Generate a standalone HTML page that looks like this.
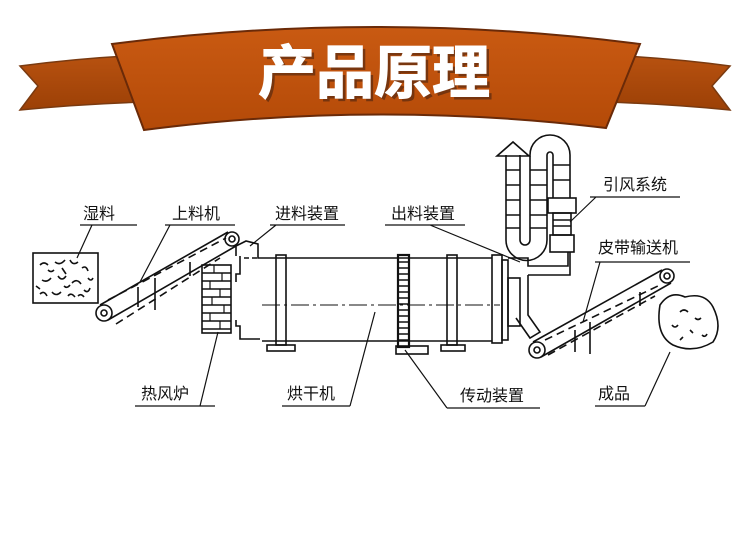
<!DOCTYPE html>
<html><head><meta charset="utf-8"><style>
html,body{margin:0;padding:0;background:#fff;}
svg{display:block;}
text{font-family:"Liberation Sans","Noto Sans CJK SC",sans-serif;}
</style></head><body>
<svg width="750" height="545" viewBox="0 0 750 545" xmlns="http://www.w3.org/2000/svg">
<defs>
<linearGradient id="g1" x1="0" y1="0" x2="0" y2="1"><stop offset="0" stop-color="#c95a12"/><stop offset="1" stop-color="#b44a08"/></linearGradient>
<linearGradient id="g2" x1="0" y1="0" x2="0" y2="1"><stop offset="0" stop-color="#b85210"/><stop offset="1" stop-color="#9c4006"/></linearGradient>
</defs>
<path d="M20,66 Q80,58 145,55 L145,102 Q80,104 20,110 L38,86 Z" fill="url(#g2)" stroke="#7a3a10" stroke-width="1.5"/>
<path d="M605,55 Q670,58 730,66 L712,86 L730,110 Q670,104 605,102 Z" fill="url(#g2)" stroke="#7a3a10" stroke-width="1.5"/>
<path d="M112,44 Q375,10 640,44 L606,128 Q375,100 144,130 Z" fill="url(#g1)" stroke="#6a2a08" stroke-width="2"/>
<text x="377" y="96" font-size="58" font-weight="bold" fill="#5a2a10" text-anchor="middle" opacity="0.7">产品原理</text>
<text x="374" y="93" font-size="58" font-weight="bold" fill="#fff" text-anchor="middle" stroke="#fff" stroke-width="1">产品原理</text>

<g fill="none" stroke="#111" stroke-width="1.6">
<rect x="33" y="253" width="65" height="50"/>
<path d="M40,265 q4,-4 8,0 M55,262 q5,4 10,-2 M70,260 q3,6 8,2 M82,268 q4,-3 6,3 M42,280 q5,3 9,-2 M58,276 q4,6 8,0 M72,283 q5,-5 9,1 M40,294 q4,-4 7,2 M52,292 q4,5 9,0 M68,296 q3,-4 7,1 M84,290 q4,4 6,-2 M62,268 l4,6 M48,270 q3,3 6,0 M88,278 q3,4 5,0 M36,286 l4,3 M78,296 q3,-3 6,1 M64,286 q3,3 6,-1"/>
<circle cx="104" cy="313" r="8"/><circle cx="104" cy="313" r="3"/>
<circle cx="232" cy="239" r="7"/><circle cx="232" cy="239" r="3"/>
<path d="M100,305 L228,232 M108,320 L236,246"/>
<path d="M108,300 L226,238 M116,324 L220,258" stroke-dasharray="8,5"/>
<path d="M138,287 v20 M155,278 v32 M190,262 v14"/>
<rect x="202" y="265" width="29" height="68"/>
<path d="M202,273h29M202,281h29M202,289h29M202,297h29M202,305h29M202,313h29M202,321h29M202,329h29"/>
<path d="M214,265v8M222,273v8M210,281v8M220,289v8M212,297v8M224,305v8M210,313v8M220,321v8" stroke-width="1.2"/>
<path d="M236,256 v-10 l10,-5 l12,3 v14 h4 M240,256 v18 h-4 v8 M236,320 v6 h4 v13 h20"/>
<path d="M244,258 h14" stroke-dasharray="5,3"/>
<path d="M262,258 H492 M262,341 H492"/>
<path d="M262,305 H500" stroke-dasharray="18,4,3,4" stroke-width="1"/>
<rect x="276" y="255" width="10" height="90"/>
<rect x="267" y="345" width="28" height="6"/>
<rect x="398" y="255" width="11" height="92" stroke-width="2.2"/>
<path d="M398,262h11M398,268h11M398,274h11M398,280h11M398,286h11M398,292h11M398,298h11M398,304h11M398,310h11M398,316h11M398,322h11M398,328h11M398,334h11M398,340h11"/>
<rect x="396" y="346" width="32" height="8"/>
<rect x="447" y="255" width="10" height="90"/>
<rect x="441" y="345" width="24" height="6"/>
<rect x="492" y="255" width="10" height="88"/>
<rect x="502" y="260" width="6" height="80"/>
<rect x="508" y="278" width="12" height="48"/>
<path d="M508,258 h20 v8 h40 v-14 M528,275 h42 v-23 M528,275 v40 l12,17 l-10,6 l-14,-20"/>
<!-- ducts -->
<path d="M506,155 V240 A20.5,20.5 0 0 0 547,240 V155 A3,3 0 0 1 553,155 V198"/>
<path d="M520,155 V240 A5,5 0 0 0 530,240 V155 A20,20 0 0 1 570,155 V198"/>
<path d="M497,156 L513,142 L529,156 Z"/>
<path d="M506,170h14M506,185h14M506,200h14M506,215h14M506,228h14M530,170h17M530,185h17M530,200h17M530,215h17M530,228h17M553,165h17M553,180h17"/>
<rect x="548" y="198" width="28" height="15"/>
<rect x="553" y="213" width="18" height="22"/>
<path d="M553,220h18M553,226h18"/>
<rect x="550" y="235" width="24" height="17"/>
<circle cx="537" cy="350" r="8"/><circle cx="537" cy="350" r="3"/>
<circle cx="667" cy="276" r="7"/><circle cx="667" cy="276" r="3"/>
<path d="M533,342 L662,270 M541,357 L671,283"/>
<path d="M545,340 L660,285 M548,355 L655,296" stroke-dasharray="8,5"/>
<path d="M575,330 v22 M590,322 v32 M640,292 v14"/>
<path d="M660,305 q10,-15 25,-8 q20,-5 28,10 q10,20 0,35 q-20,12 -40,3 q-18,-10 -13,-40 Z"/>
<path d="M680,312 q4,-4 8,0 M695,318 q3,3 6,0 M672,325 q3,4 6,0 M690,330 l3,3 M702,335 q3,3 5,-1 M680,340 l3,-3"/>
<g stroke-width="1.2">
<path d="M80,225 H137 M92,225 L77,258"/>
<path d="M165,225 H235 M170,225 L140,282"/>
<path d="M270,225 H345 M276,225 L250,246"/>
<path d="M385,225 H465 M430,225 L520,262"/>
<path d="M590,197 H680 M596,197 L570,222"/>
<path d="M595,262 H690 M600,262 L583,322"/>
<path d="M135,406 H215 M200,406 L218,332"/>
<path d="M282,406 H350 M350,406 L375,312"/>
<path d="M447,408 H540 M447,408 L405,350"/>
<path d="M595,406 H645 M645,406 L670,352"/>
</g>
</g>
<g font-size="16" fill="#111">
<text x="83" y="219">湿料</text>
<text x="172" y="219">上料机</text>
<text x="275" y="219">进料装置</text>
<text x="391" y="219">出料装置</text>
<text x="603" y="190">引风系统</text>
<text x="598" y="253">皮带输送机</text>
<text x="141" y="399">热风炉</text>
<text x="287" y="399">烘干机</text>
<text x="460" y="401">传动装置</text>
<text x="598" y="399">成品</text>
</g>
</svg>
</body></html>
